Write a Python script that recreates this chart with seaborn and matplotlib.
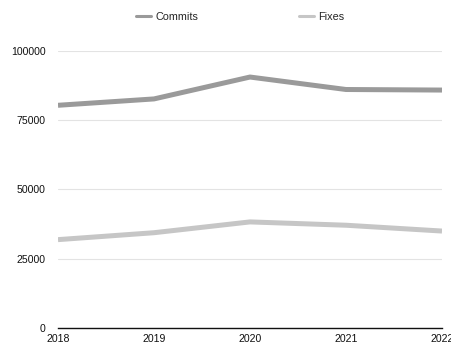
import matplotlib
matplotlib.use("Agg")
import matplotlib.pyplot as plt
import seaborn as sns
import pandas as pd
from matplotlib.lines import Line2D

years = [2018, 2019, 2020, 2021, 2022]
commits = [80400, 82700, 90600, 86100, 85900]
fixes = [31900, 34400, 38300, 37100, 35000]
series_names = ["Commits", "Fixes"]
colors = {"Commits": "#9a9a9a", "Fixes": "#c6c6c6"}
yticks = [0, 25000, 50000, 75000, 100000]

df = pd.DataFrame({
    "year": years * 2,
    "value": commits + fixes,
    "series": ["Commits"] * len(years) + ["Fixes"] * len(years),
})

sns.set_style("white")
plt.rcParams["font.family"] = ["Liberation Sans", "DejaVu Sans"]

fig = plt.figure(figsize=(4.52, 3.45), dpi=100)
ax = fig.add_axes([58 / 452, 17 / 345, 384 / 452, 277 / 345])

sns.lineplot(data=df, x="year", y="value", hue="series", hue_order=series_names,
             palette=colors, linewidth=3.6, ax=ax, legend=False,
             solid_capstyle="butt")

ax.set_xlim(2018, 2022)
ax.set_ylim(0, 100000)
ax.set_xticks(years)
ax.set_xticklabels([str(y) for y in years])
ax.set_yticks(yticks)
ax.set_yticklabels([str(t) for t in yticks])
ax.set_xlabel("")
ax.set_ylabel("")
ax.grid(axis="y", color="#e3e3e3", linewidth=0.8)
ax.set_axisbelow(True)
for s in ["left", "right", "top"]:
    ax.spines[s].set_visible(False)
ax.spines["bottom"].set_color("#111111")
ax.spines["bottom"].set_linewidth(1.0)
ax.tick_params(axis="both", length=0, labelsize=7.6, colors="#111111")
ax.tick_params(axis="y", pad=9)
ax.tick_params(axis="x", pad=4.5)

handles = [Line2D([0], [0], color=colors[n], linewidth=2.2) for n in series_names]
fig.legend(handles, series_names, loc="center", bbox_to_anchor=(240 / 452, 1 - 17 / 345),
           ncol=2, frameon=False, fontsize=7.8, handlelength=1.4, handletextpad=0.35,
           columnspacing=9.3)

fig.savefig("out.png", dpi=100)
